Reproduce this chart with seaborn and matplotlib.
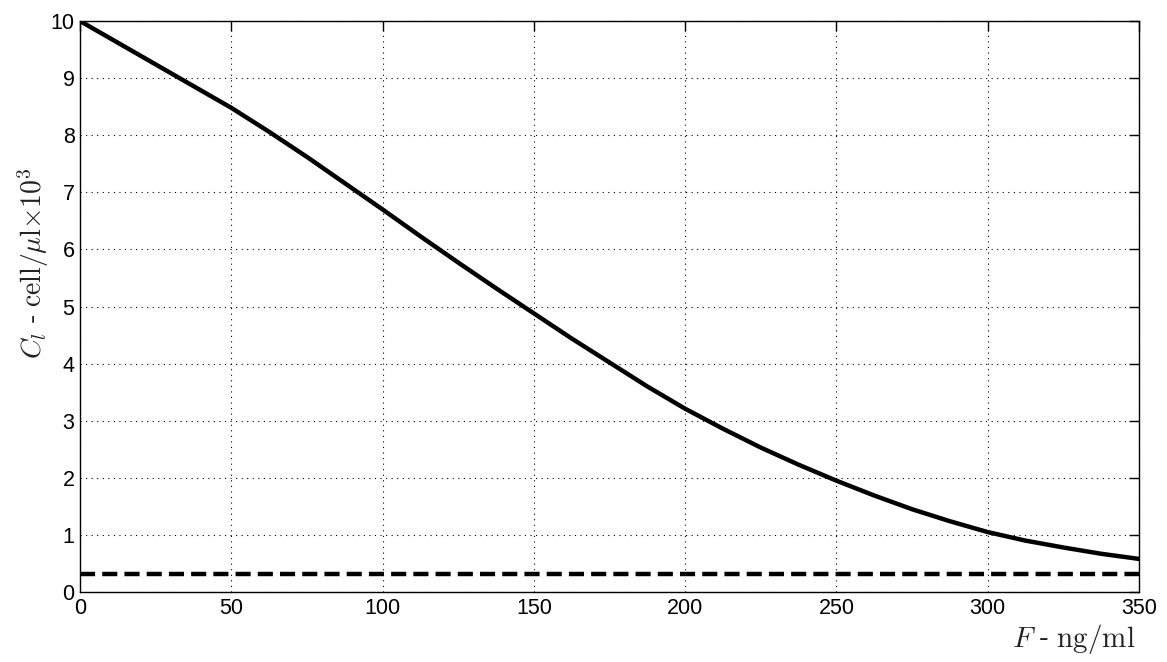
import matplotlib
matplotlib.use("Agg")
import matplotlib.pyplot as plt
import seaborn as sns
import pandas as pd

# Values
F_values = [0, 12.5, 25, 37.5, 50, 62.5, 75, 87.5, 100, 112.5, 125, 137.5,
            150, 162.5, 175, 187.5, 200, 212.5, 225, 237.5, 250, 262.5,
            275, 287.5, 300, 312.5, 325, 337.5, 350]
C_values = [10.00, 9.62, 9.24, 8.86, 8.48, 8.06, 7.62, 7.16, 6.70, 6.23,
            5.77, 5.32, 4.88, 4.44, 4.02, 3.60, 3.21, 2.86, 2.53, 2.23,
            1.95, 1.69, 1.45, 1.24, 1.05, 0.90, 0.78, 0.67, 0.58]
threshold_F = [0, 350]
threshold_C = [0.32, 0.32]

x_ticks = [0, 50, 100, 150, 200, 250, 300, 350]
y_ticks = list(range(0, 11))

curve = pd.DataFrame({'F': F_values, 'C': C_values})
limit = pd.DataFrame({'F': threshold_F, 'C': threshold_C})

sns.set_style('white')
plt.rcParams['font.family'] = ['Liberation Sans', 'DejaVu Sans']
plt.rcParams['mathtext.fontset'] = 'cm'

fig = plt.figure(figsize=(11.67, 6.62), dpi=100)
ax = fig.add_axes([0.0686, 0.1057, 0.9074, 0.8625])

sns.lineplot(data=curve, x='F', y='C', ax=ax, color='black', linewidth=3.2)
sns.lineplot(data=limit, x='F', y='C', ax=ax, color='black', linewidth=3.2,
             linestyle=(0, (3.4, 1.6)))

ax.set_xlim(0, 350)
ax.set_ylim(0, 10)
ax.set_xticks(x_ticks)
ax.set_yticks(y_ticks)
ax.tick_params(direction='in', length=7, width=1, top=True, right=True,
               labelsize=15.5, colors='black', pad=4)
ax.grid(True, color='black', linestyle=(0, (1, 4)), linewidth=0.8)
for s in ax.spines.values():
    s.set_color('black')
    s.set_linewidth(1)

ax.set_xlabel(r'$F$ - $\mathrm{ng/ml}$', fontsize=21, color='#222222')
ax.xaxis.set_label_coords(0.997, -0.052)
ax.xaxis.label.set_horizontalalignment('right')
ax.set_ylabel(r'$C_l$ - $\mathrm{cell}/\mu\mathrm{l}{\times}10^3$',
              fontsize=20, color='#222222')
ax.yaxis.set_label_coords(-0.027, 0.576)

fig.savefig('out.png', dpi=100)
